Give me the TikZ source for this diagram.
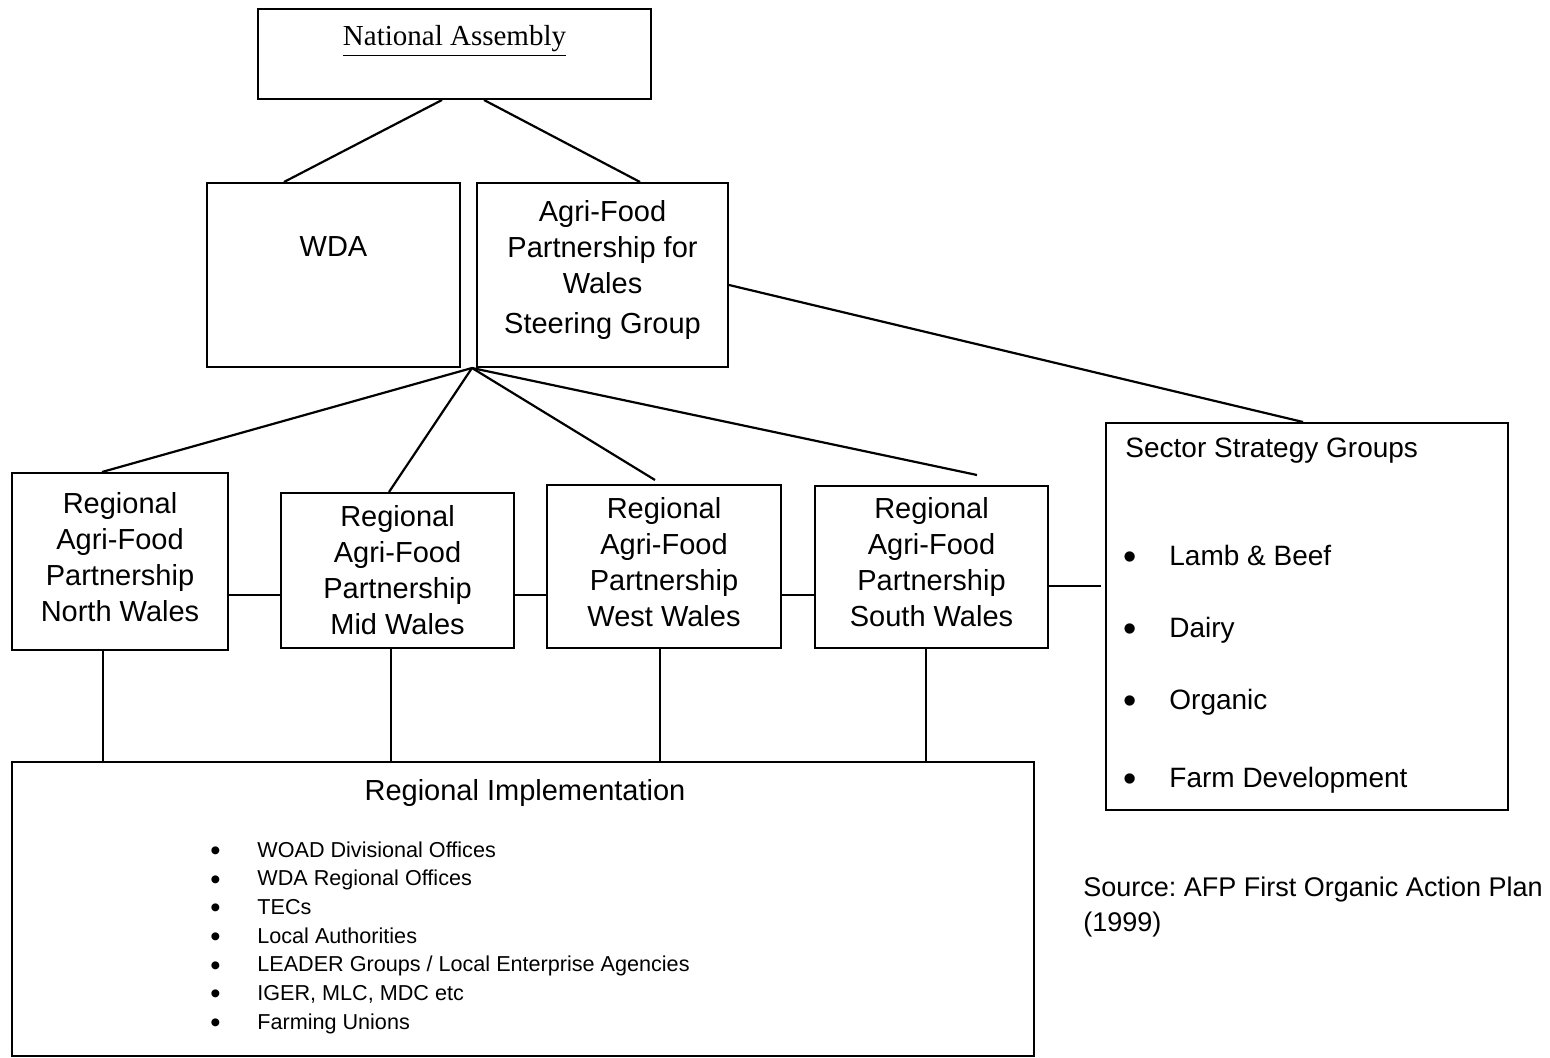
\documentclass[tikz,border=0pt]{standalone}
\usepackage{fontspec}
\setmainfont{Liberation Sans}
\newfontfamily\assemblyfont{Liberation Serif}
\usepackage{tikz}
\usetikzlibrary{positioning, calc}
\frenchspacing
\newcommand{\bigdot}{\raisebox{-0.3ex}{\scalebox{1.35}{\textbullet}}}

\tikzset{
  box/.style={draw, rectangle, line width=1pt, inner sep=0pt, align=center, font=\fontsize{14.5}{18}\selectfont},
  regionbox/.style={box, text depth=5pt},
  link/.style={line width=1.1pt},
  listitem/.style={anchor=base west, inner sep=0pt, font=\fontsize{10.8}{13}\selectfont},
  groupitem/.style={anchor=base west, inner sep=0pt, font=\fontsize{14}{17}\selectfont},
}

\begin{document}
\begin{tikzpicture}[x=0.5pt, y=-0.5pt]
        \useasboundingbox (0,0) rectangle (1550,1058);
        % Top level
        \node (assembly) [box, minimum width=196.5pt, minimum height=45pt] at (454.5,54) {};
        \node (assemblytext) [font=\assemblyfont\fontsize{14.5}{17}\selectfont] at (454.5,41) {\underline{National Assembly}};
        \node (wda) [box, minimum width=126.5pt, minimum height=92pt] at (333.5,275) {};
        \node (wdatext) [font=\fontsize{14.5}{18}\selectfont] at (333.5,247) {WDA};
        \node (steer) [box, text depth=8pt, minimum width=125.5pt, minimum height=92pt] at (602.5,275) {Agri-Food\\Partnership for\\Wales\\[2pt]Steering Group};
        % Regional partnerships
        \node (north) [regionbox, minimum width=108pt, minimum height=88.5pt] at (120,561.5) {Regional\\Agri-Food\\Partnership\\North Wales};
        \node (mid) [box, minimum width=116.5pt, minimum height=77.5pt] at (397.5,570.5) {Regional\\Agri-Food\\Partnership\\Mid Wales};
        \node (west) [regionbox, minimum width=117pt, minimum height=81.5pt] at (664,566.5) {Regional\\Agri-Food\\Partnership\\West Wales};
        \node (south) [regionbox, minimum width=116.5pt, minimum height=81pt] at (931.5,567) {Regional\\Agri-Food\\Partnership\\South Wales};
        % Sector groups
        \node (sector) [box, minimum width=201pt, minimum height=193.5pt] at (1307,616.5) {};
        \node (sectortitle) [groupitem] at (1125,458) {Sector Strategy Groups};
        \foreach \grp/\ypos [count=\k] in {Lamb \& Beef/565, Dairy/637, Organic/709, Farm Development/787}
            \node (group\k) [groupitem] at (1123,\ypos) {\makebox[23pt][l]{\bigdot}\grp};
        % Regional implementation
        \node (impl) [box, minimum width=511pt, minimum height=147pt] at (523,909) {};
        \node (impltitle) [anchor=base, font=\fontsize{14.5}{17}\selectfont] at (525,800) {Regional Implementation};
        \foreach \office [count=\k] in {WOAD Divisional Offices, WDA Regional Offices, TECs, Local Authorities, LEADER Groups / Local Enterprise Agencies, {IGER, MLC, MDC etc}, Farming Unions}
            \node (office\k) [listitem] at (210,{857+28.7*(\k-1)}) {\makebox[23.5pt][l]{\bigdot}\office};
        \node (source) [anchor=north west, align=left, inner sep=0pt, font=\fontsize{13.5}{17.5}\selectfont] at (1083,877) {Source: AFP First Organic Action Plan\\(1999)};
        % Links
        \draw[link] ($(assembly.south)+(-12.5,0)$) -- ($(wda.north west)+(78,0)$);
        \draw[link] ($(assembly.south)+(29.5,0)$) -- ($(steer.north)+(37.5,0)$);
        \coordinate (hub) at ($(steer.south west)+(-4,0)$);
        \draw[link] (hub) -- ($(north.north west)+(91,0)$);
        \draw[link] (hub) -- ($(mid.north)+(-8.5,0)$);
        \draw[link] (hub) -- ($(west.north)+(-9,-4)$);
        \draw[link] (hub) -- ($(south.north)+(45.5,-10)$);
        \draw[link] ($(steer.east)+(0,10)$) -- ($(sector.north)+(-4,0)$);
        \coordinate (row) at (0,595);
        \draw[link] (north.east |- row) -- (mid.west |- row);
        \draw[link] (mid.east |- row) -- (west.west |- row);
        \draw[link] (west.east |- row) -- (south.west |- row);
        \draw[link] ($(south.east)+(0,19)$) coordinate (s1) -- ($(s1 -| sector.west)+(-4,0)$);
        \foreach \col/\dx in {north/-17, mid/-6.5, west/-4, south/-5.5}
            \draw[link] ($(\col.south)+(\dx,0)$) coordinate (drop\col) -- (drop\col |- impl.north);
    \end{tikzpicture}
\end{document}
